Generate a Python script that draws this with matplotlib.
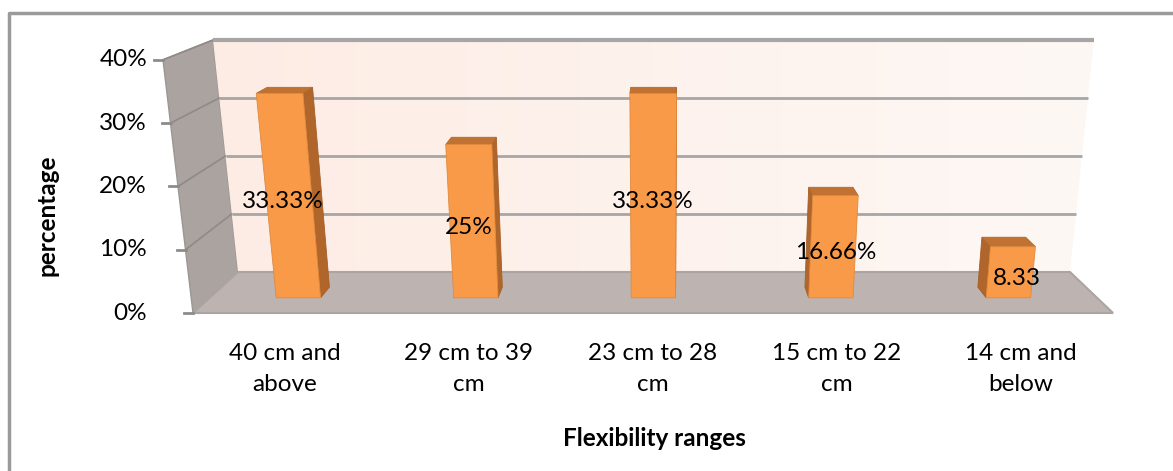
import numpy as np
import matplotlib.pyplot as plt
from matplotlib.patches import Polygon
from matplotlib.colors import LinearSegmentedColormap

plt.rcParams['font.family'] = ['Lato', 'DejaVu Sans']

categories = ['40 cm and\nabove', '29 cm to 39\ncm', '23 cm to 28\ncm', '15 cm to 22\ncm', '14 cm and\nbelow']
values = [33.33, 25, 33.33, 16.66, 8.33]
value_labels = ['33.33%', '25%', '33.33%', '16.66%', '8.33']
yticks = [0, 10, 20, 30, 40]
ytick_labels = ['0%', '10%', '20%', '30%', '40%']

W, H = 1173, 471

# pseudo-3d box: front plane and back plane corners (pixels), keyed on value
def proj(u, v, d):
    u = np.asarray(u, float); v = np.asarray(v, float); d = np.asarray(d, float)
    yf = 313 - 6.33 * v
    yb = 272 - 5.8 * v
    xlf = 193 - 0.75 * v
    xrf = 1113 + 0.75 * v
    xlb = 238 - 0.625 * v
    xrb = 1070 + 0.6 * v
    xl = xlf + d * (xlb - xlf)
    xr = xrf + d * (xrb - xrf)
    return xl + u * (xr - xl), yf + d * (yb - yf)

def poly(pts, **kw):
    xy = np.array([proj(*p) for p in pts])
    return Polygon(xy, closed=True, **kw)

fig = plt.figure(figsize=(W / 100, H / 100), dpi=100)
ax = fig.add_axes([0, 0, 1, 1])
ax.set_xlim(0, W)
ax.set_ylim(H, 0)
ax.axis('off')

# chart border
ax.plot([9, 9, W + 5], [H + 5, 13, 13], color='#9a9a9a', lw=2.5, solid_capstyle='butt')

vmax = yticks[-1]

# side wall
side = poly([(0, 0, 0), (0, vmax, 0), (0, vmax, 1), (0, 0, 1)],
            facecolor='#aaa3a0', edgecolor='#9c9794', lw=1)
ax.add_patch(side)

# back wall with a soft peach gradient
back = poly([(0, 0, 1), (1, 0, 1), (1, vmax, 1), (0, vmax, 1)],
            facecolor='none', edgecolor='none')
ax.add_patch(back)
cmap = LinearSegmentedColormap.from_list('wall', ['#fdece4', '#fef8f5'])
grad = np.linspace(0, 1, 256).reshape(1, -1)
im = ax.imshow(grad, cmap=cmap, extent=(205, 1100, 275, 38), aspect='auto', zorder=1)
im.set_clip_path(back)

# floor
floor = poly([(0, 0, 0), (1, 0, 0), (1, 0, 1), (0, 0, 1)],
             facecolor='#bdb4b1', edgecolor='#aaa4a2', lw=1.5, zorder=2)
ax.add_patch(floor)

# gridlines on side and back walls
for v in yticks[1:]:
    x0, y0 = proj(0, v, 0)
    x1, y1 = proj(0, v, 1)
    x2, y2 = proj(1, v, 1)
    ax.plot([x0, x1], [y0, y1], color='#8f8a88', lw=1.2, zorder=2)
    lw = 3 if v == vmax else 2
    ax.plot([x1, x2], [y1, y2], color='#a6a6a6', lw=lw, zorder=2, solid_capstyle='butt')

# value axis ticks and labels
for v, lab in zip(yticks, ytick_labels):
    x, y = proj(0, v, 0)
    ax.plot([x - 9, x], [y, y], color='#8c8c8c', lw=2, zorder=3)
    ax.text(147, y, lab, ha='right', va='center', fontsize=17.5, color='black')

# bars
n = len(values)
half = 0.025
d0, d1 = 0.37, 0.63
for i, val in enumerate(values):
    uc = (i + 0.5) / n
    ul, ur = uc - half, uc + half
    us = ur if uc <= 0.5 else ul
    ax.add_patch(poly([(us, 0, d0), (us, val, d0), (us, val, d1), (us, 0, d1)],
                      facecolor='#b0652a', edgecolor='#a65f28', lw=0.6, zorder=4))
    ax.add_patch(poly([(ul, val, d0), (ur, val, d0), (ur, val, d1), (ul, val, d1)],
                      facecolor='#c07232', edgecolor='#b06a2e', lw=0.6, zorder=4))
    ax.add_patch(poly([(ul, 0, d0), (ur, 0, d0), (ur, val, d0), (ul, val, d0)],
                      facecolor='#f89a48', edgecolor='#e08a3e', lw=0.6, zorder=5))
    lx, ly = proj(uc, val / 2, 0.2)
    ax.text(lx, ly, value_labels[i], ha='center', va='center', fontsize=17.5,
            color='black', zorder=6)

# category labels under the floor
for i, cat in enumerate(categories):
    x, _ = proj((i + 0.5) / n, 0, 0)
    ax.text(x, 343, cat, ha='center', va='top', fontsize=17.5, color='black',
            linespacing=1.6)

ax.text(47, 215, 'percentage', rotation=90, ha='center', va='center',
        fontsize=17.5, fontweight='bold', color='black')
ax.text(654, 438, 'Flexibility ranges', ha='center', va='center',
        fontsize=17.5, fontweight='bold', color='black')

fig.savefig('out.png', dpi=100)
